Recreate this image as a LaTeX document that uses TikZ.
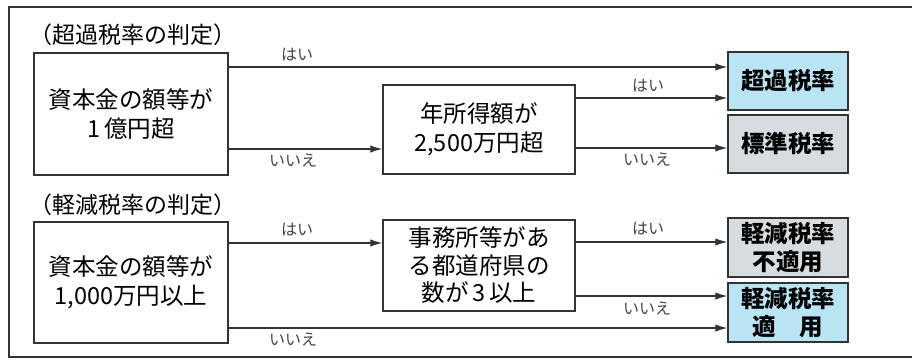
\documentclass[tikz,border=0pt]{standalone}
\usepackage{fontspec}
\setmainfont{Noto Sans CJK JP}
\newfontfamily\jpbold{Noto Sans CJK JP}[BoldFont=*, UprightFeatures={FakeBold=0}]
\usetikzlibrary{arrows.meta}
\definecolor{lineC}{HTML}{333333}
\definecolor{blueF}{HTML}{B9E4F4}
\definecolor{grayF}{HTML}{D6DCDF}
\definecolor{lblC}{HTML}{454545}
\tikzset{
  qbox/.style={draw=lineC, line width=1.4pt, fill=white, align=center, inner sep=0pt, font=\fontsize{23.5}{29.5}\selectfont},
  resbox/.style={draw=lineC, line width=1.4pt, align=center, inner sep=0pt, minimum width=120pt, font=\bfseries\fontsize{23.5}{28}\selectfont},
  arr/.style={draw=lineC, line width=1.3pt, -{Latex[length=12pt,width=7.5pt]}},
  plainline/.style={draw=lineC, line width=1.3pt},
  lbl/.style={text=lblC, inner sep=0pt, font=\fontsize{16}{16}\selectfont},
  ttl/.style={inner sep=0pt, font=\fontsize{23}{23}\selectfont},
}
\begin{document}
\begin{tikzpicture}[x=1pt,y=-1pt]
\useasboundingbox (0,0) rectangle (912,360);
\fill[white] (0,0) rectangle (912,360);
% outer frame
\draw[draw=lineC, line width=1.2pt] (913,7) -- (9,7) -- (9,357) -- (913,357);

% titles
\node[ttl] (t1) at (132.5,35) {（超過税率の判定）};
\node[ttl] (t2) at (132.5,205) {（軽減税率の判定）};

% upper section
\node[qbox, minimum width=194pt, minimum height=122pt] (A1) at (131,114) {資本金の額等が\\1\,億円超};
\node[qbox, minimum width=192pt, minimum height=89pt] (B1) at (479,129.5) {年所得額が\\2,500万円超};
\node[resbox, fill=blueF, minimum height=58pt] (R1) at (788,81) {超過税率};
\node[resbox, fill=grayF, minimum height=58pt] (R2) at (788,144) {標準税率};

\draw[arr] (A1.east |- 0,67) -- (R1.west |- 0,67);
\draw[arr] (A1.east |- 0,149) -- (B1.west |- 0,149);
\draw[arr] (B1.east |- 0,98) -- (R1.west |- 0,98);
\draw[arr] (B1.east |- 0,148) -- (R2.west |- 0,148);

\node[lbl] (l1) at (297,55) {はい};
\node[lbl] (l2) at (293,161) {いいえ};
\node[lbl] (l3) at (648,86) {はい};
\node[lbl] (l4) at (647,160) {いいえ};

% lower section
\node[qbox, minimum width=194pt, minimum height=121pt] (A2) at (131,282.5) {資本金の額等が\\1,000万円以上};
\node[qbox, minimum width=192pt, minimum height=91pt, font=\fontsize{23.5}{27.5}\selectfont] (B2) at (479,265.5) {事務所等があ\\る都道府県の\\数が\,3\,以上};
\node[resbox, fill=grayF, minimum height=59pt] (R3) at (788,247.5) {軽減税率\\不適用};
\node[resbox, fill=blueF, minimum height=59pt] (R4) at (788,312.5) {軽減税率\\適\hspace{1em}用};

\draw[arr] (A2.east |- 0,243) -- (B2.west |- 0,243);
\draw[arr] (A2.east |- 0,328) -- (R4.west |- 0,328);
\draw[arr] (B2.east |- 0,242) -- (R3.west |- 0,242);
\draw[arr] (B2.east |- 0,296) -- (R4.west |- 0,296);

\node[lbl] (l5) at (297,230) {はい};
\node[lbl] (l6) at (293,340) {いいえ};
\node[lbl] (l7) at (648,229) {はい};
\node[lbl] (l8) at (647,309) {いいえ};
\end{tikzpicture}
\end{document}
